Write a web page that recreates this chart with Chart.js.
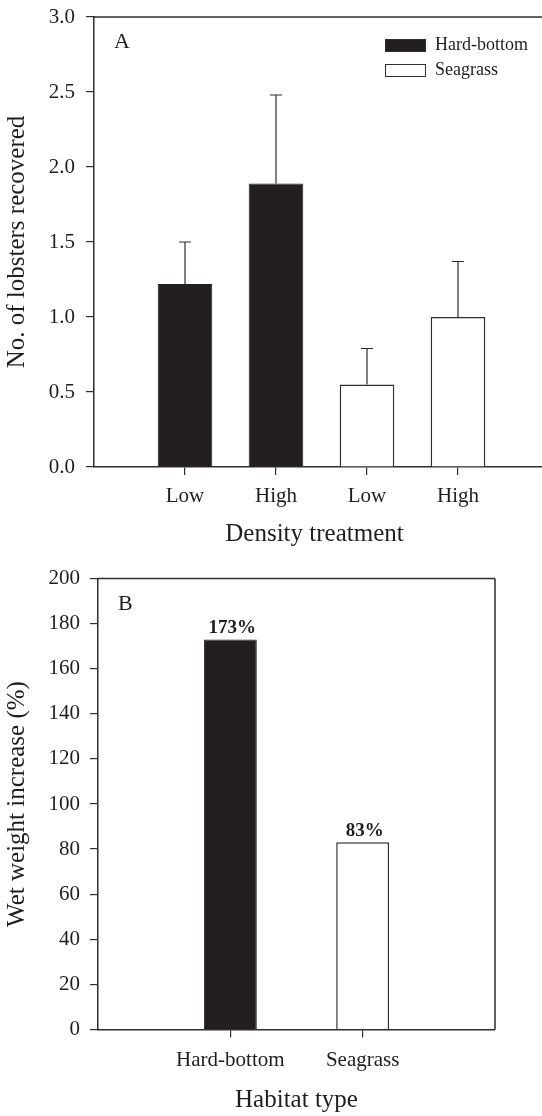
<!DOCTYPE html>
<html>
<head>
<meta charset="utf-8">
<script src="https://cdn.jsdelivr.net/npm/chart.js@4.4.0/dist/chart.umd.min.js"></script>
<style>
  html, body { margin: 0; padding: 0; background: #fff; overflow: hidden; width: 542px; height: 1116px; }
  #wrap1 { position: absolute; left: 0; top: 0; width: 560px; height: 560px; }
  #wrap2 { position: absolute; left: 0; top: 560px; width: 542px; height: 556px; }
</style>
</head>
<body>
<div id="wrap1"><canvas id="c1" width="560" height="560"></canvas></div>
<div id="wrap2"><canvas id="c2" width="542" height="556"></canvas></div>
<script>
// ---------- Panel A data ----------
const densityCategories = ['Low', 'High', 'Low', 'High'];
const hardBottomMeans = [1.22, 1.89];
const hardBottomSE = [0.28, 0.59];
const seagrassMeans = [0.55, 1.00];
const seagrassSE = [0.24, 0.37];
const yTicksA = [0, 0.5, 1.0, 1.5, 2.0, 2.5, 3.0];

// ---------- Panel B data ----------
const habitatCategories = ['Hard-bottom', 'Seagrass'];
const weightIncrease = [173, 83];
const yTicksB = [0, 20, 40, 60, 80, 100, 120, 140, 160, 180, 200];

const FONT = '"Liberation Serif", "Times New Roman", serif';
const INK = '#1e1e1e';
const AXIS = '#2e2e2e';
const BLACK = '#231f20';

Chart.defaults.font.family = FONT;
Chart.defaults.color = INK;

const boxPlugin = {
  id: 'frame',
  afterDraw(chart, args, opts) {
    const {ctx, chartArea: a} = chart;
    ctx.save();
    ctx.strokeStyle = AXIS;
    ctx.lineWidth = 1.5;
    ctx.beginPath();
    ctx.moveTo(a.left, a.top);
    ctx.lineTo(a.right, a.top);
    if (opts.right) {
      ctx.moveTo(a.right, a.top);
      ctx.lineTo(a.right, a.bottom);
    }
    ctx.stroke();
    ctx.fillStyle = INK;
    ctx.font = '22px ' + FONT;
    ctx.textAlign = 'left';
    ctx.textBaseline = 'alphabetic';
    ctx.fillText(opts.letter, a.left + 20, a.top + 31);
    if (opts.xTitle) {
      ctx.font = '25px ' + FONT;
      ctx.textAlign = 'center';
      ctx.textBaseline = 'middle';
      ctx.fillText(opts.xTitle.text, (a.left + a.right) / 2 + opts.xTitle.dx,
                   chart.height - opts.xTitle.bottom - 15);
    }
    ctx.restore();
  }
};

const errorBarPlugin = {
  id: 'errorBars',
  afterDatasetsDraw(chart, args, opts) {
    if (!opts.errors) return;
    const {ctx} = chart;
    const yScale = chart.scales.y;
    ctx.save();
    ctx.strokeStyle = AXIS;
    ctx.lineWidth = 1.2;
    chart.data.datasets.forEach((ds, di) => {
      const meta = chart.getDatasetMeta(di);
      const errs = opts.errors[di];
      meta.data.forEach((el, i) => {
        const v = ds.data[i].y;
        const top = yScale.getPixelForValue(v + errs[i]);
        ctx.beginPath();
        ctx.moveTo(el.x, el.y);
        ctx.lineTo(el.x, top);
        ctx.moveTo(el.x - 6, top);
        ctx.lineTo(el.x + 6, top);
        ctx.stroke();
      });
    });
    ctx.restore();
  }
};

const legendPlugin = {
  id: 'boxLegend',
  afterDraw(chart, args, opts) {
    if (!opts.show) return;
    const {ctx} = chart;
    ctx.save();
    ctx.font = '18px ' + FONT;
    ctx.textAlign = 'left';
    ctx.textBaseline = 'middle';
    chart.data.datasets.forEach((ds, i) => {
      const y = opts.y + i * opts.gap;
      ctx.fillStyle = ds.backgroundColor;
      ctx.fillRect(opts.x, y, opts.w, opts.h);
      ctx.strokeStyle = AXIS;
      ctx.lineWidth = 1;
      ctx.strokeRect(opts.x + 0.5, y + 0.5, opts.w - 1, opts.h - 1);
      ctx.fillStyle = INK;
      ctx.fillText(ds.label, opts.x + opts.w + 9, y + opts.h / 2);
    });
    ctx.restore();
  }
};

const valueLabelPlugin = {
  id: 'valueLabels',
  afterDatasetsDraw(chart, args, opts) {
    if (!opts.show) return;
    const {ctx} = chart;
    ctx.save();
    ctx.font = 'bold 19px ' + FONT;
    ctx.fillStyle = INK;
    ctx.textAlign = 'center';
    ctx.textBaseline = 'alphabetic';
    chart.data.datasets.forEach((ds, di) => {
      const meta = chart.getDatasetMeta(di);
      meta.data.forEach((el, i) => {
        ctx.fillText(ds.data[i].y + '%', el.x + 2, el.y - 6);
      });
    });
    ctx.restore();
  }
};

function axisCommon() {
  return {
    offset: false,
    grid: { offset: false, drawOnChartArea: false, drawTicks: true, tickLength: 8, color: AXIS, lineWidth: 1.2 },
    border: { display: true, color: AXIS, width: 1.5 },
  };
}
function fitY(w) {
  return s => { s.width = w; s.paddingTop = 0; s.paddingBottom = 0; };
}
function fitX(h) {
  return s => { s.height = h; s.paddingLeft = 0; s.paddingRight = 0; };
}

// ---------- Panel A ----------
new Chart(document.getElementById('c1'), {
  type: 'bar',
  data: {
    datasets: [
      {
        label: 'Hard-bottom',
        data: hardBottomMeans.map((v, i) => ({ x: i + 1, y: v })),
        backgroundColor: BLACK, borderColor: BLACK, borderWidth: 1,
        grouped: false, barPercentage: 0.6, categoryPercentage: 1
      },
      {
        label: 'Seagrass',
        data: seagrassMeans.map((v, i) => ({ x: i + 1 + hardBottomMeans.length, y: v })),
        backgroundColor: '#ffffff', borderColor: AXIS, borderWidth: 1.5,
        grouped: false, barPercentage: 0.6, categoryPercentage: 1
      }
    ]
  },
  options: {
    responsive: false, animation: false,
    layout: { padding: { top: 17, right: 11, left: 0, bottom: 0 } },
    plugins: {
      legend: { display: false }, tooltip: { enabled: false },
      frame: { letter: 'A', right: true, xTitle: { text: 'Density treatment', dx: -7, bottom: 11 } },
      errorBars: { errors: [hardBottomSE, seagrassSE] },
      boxLegend: { show: true, x: 385, y: 39, w: 41, h: 13, gap: 25 },
      valueLabels: { show: false }
    },
    scales: {
      x: Object.assign(axisCommon(), {
        type: 'linear', min: 0, max: densityCategories.length + 1,
        afterBuildTicks: s => { s.ticks = densityCategories.map((c, i) => ({ value: i + 1 })); },
        afterFit: fitX(93),
        ticks: { padding: 9, font: { size: 21 }, color: INK, callback: v => densityCategories[v - 1] },
        title: { display: false }
      }),
      y: Object.assign(axisCommon(), {
        type: 'linear', min: 0, max: 3,
        afterBuildTicks: s => { s.ticks = yTicksA.map(v => ({ value: v })); },
        afterFit: fitY(94),
        ticks: { padding: 11, font: { size: 21 }, color: INK, callback: v => Number(v).toFixed(1) },
        title: { display: true, text: 'No. of lobsters recovered', font: { size: 25 }, color: INK, padding: { top: 2, bottom: 0 } }
      })
    }
  },
  plugins: [boxPlugin, errorBarPlugin, legendPlugin, valueLabelPlugin]
});

// ---------- Panel B ----------
new Chart(document.getElementById('c2'), {
  type: 'bar',
  data: {
    datasets: [
      {
        label: habitatCategories[0],
        data: [{ x: 1, y: weightIncrease[0] }],
        backgroundColor: BLACK, borderColor: BLACK, borderWidth: 1,
        grouped: false, barPercentage: 0.4, categoryPercentage: 1
      },
      {
        label: habitatCategories[1],
        data: [{ x: 2, y: weightIncrease[1] }],
        backgroundColor: '#ffffff', borderColor: AXIS, borderWidth: 1.5,
        grouped: false, barPercentage: 0.4, categoryPercentage: 1
      }
    ]
  },
  options: {
    responsive: false, animation: false,
    layout: { padding: { top: 18.5, right: 47, left: 0, bottom: 0 } },
    plugins: {
      legend: { display: false }, tooltip: { enabled: false },
      frame: { letter: 'B', right: true },
      errorBars: {},
      boxLegend: { show: false },
      valueLabels: { show: true }
    },
    scales: {
      x: Object.assign(axisCommon(), {
        type: 'linear', min: 0, max: habitatCategories.length + 1,
        afterBuildTicks: s => { s.ticks = habitatCategories.map((c, i) => ({ value: i + 1 })); },
        afterFit: fitX(86.5),
        ticks: { padding: 10, font: { size: 21 }, color: INK, callback: v => habitatCategories[v - 1] },
        title: { display: true, text: 'Habitat type', font: { size: 25 }, color: INK, padding: { top: 0, bottom: 1 } }
      }),
      y: Object.assign(axisCommon(), {
        type: 'linear', min: 0, max: 200,
        afterBuildTicks: s => { s.ticks = yTicksB.map(v => ({ value: v })); },
        afterFit: fitY(98),
        ticks: { padding: 10, font: { size: 21 }, color: INK },
        title: { display: true, text: 'Wet weight increase (%)', font: { size: 25 }, color: INK, padding: { top: 2, bottom: 0 } }
      })
    }
  },
  plugins: [boxPlugin, errorBarPlugin, legendPlugin, valueLabelPlugin]
});
</script>
</body>
</html>
